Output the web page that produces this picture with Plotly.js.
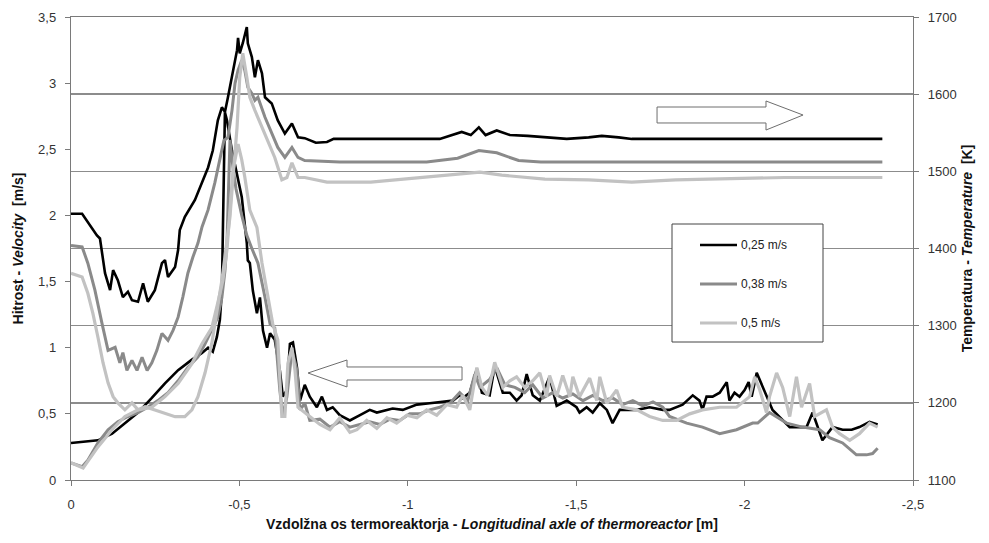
<!DOCTYPE html>
<html>
<head>
<meta charset="utf-8">
<script src="https://cdn.plot.ly/plotly-3.0.1.min.js"></script>
<style>html,body{margin:0;padding:0;background:#fff;}#chart{width:989px;height:543px;}</style>
</head>
<body>
<div id="chart"></div>
<script>
// ---------- DATA ----------
const seriesNames = ['0,25 m/s', '0,38 m/s', '0,5 m/s'];

// Temperature [K] along the axis (right axis), pairs [x (m), T (K)]
const temp025 = [[0,1445],[-0.033,1445],[-0.077,1417],[-0.086,1413],[-0.101,1368],[-0.116,1346],[-0.125,1372],[-0.139,1359],[-0.154,1337],[-0.169,1344],[-0.181,1333],[-0.199,1331],[-0.214,1355],[-0.228,1331],[-0.249,1346],[-0.270,1381],[-0.279,1385],[-0.288,1363],[-0.309,1376],[-0.318,1398],[-0.323,1424],[-0.338,1441],[-0.368,1463],[-0.389,1485],[-0.407,1505],[-0.421,1527],[-0.436,1566],[-0.448,1583],[-0.457,1577],[-0.466,1596],[-0.478,1622],[-0.493,1657],[-0.496,1673],[-0.501,1653],[-0.510,1666],[-0.522,1687],[-0.525,1666],[-0.537,1648],[-0.546,1622],[-0.555,1644],[-0.567,1627],[-0.576,1596],[-0.596,1588],[-0.614,1566],[-0.635,1549],[-0.656,1562],[-0.674,1544],[-0.694,1543],[-0.727,1537],[-0.760,1538],[-0.780,1542],[-1.095,1542],[-1.160,1551],[-1.187,1547],[-1.211,1557],[-1.231,1547],[-1.264,1553],[-1.303,1547],[-1.356,1546],[-1.407,1544],[-1.472,1542],[-1.537,1544],[-1.576,1546],[-1.626,1544],[-1.665,1542],[-2.409,1542]];
const temp038 = [[0,1404],[-0.033,1402],[-0.050,1381],[-0.071,1346],[-0.092,1303],[-0.110,1268],[-0.131,1272],[-0.145,1252],[-0.154,1265],[-0.166,1242],[-0.181,1255],[-0.196,1242],[-0.211,1259],[-0.226,1242],[-0.240,1252],[-0.255,1268],[-0.270,1290],[-0.288,1281],[-0.303,1294],[-0.318,1311],[-0.332,1337],[-0.347,1368],[-0.362,1389],[-0.377,1407],[-0.389,1428],[-0.407,1450],[-0.427,1485],[-0.442,1514],[-0.454,1540],[-0.466,1544],[-0.478,1579],[-0.487,1614],[-0.496,1631],[-0.507,1644],[-0.516,1631],[-0.525,1609],[-0.537,1601],[-0.546,1592],[-0.555,1596],[-0.576,1570],[-0.596,1549],[-0.614,1531],[-0.635,1518],[-0.656,1531],[-0.674,1518],[-0.694,1514],[-0.798,1512],[-1.056,1512],[-1.148,1517],[-1.211,1527],[-1.264,1524],[-1.329,1514],[-1.395,1512],[-2.409,1512]];
const temp05 = [[0,1368],[-0.033,1363],[-0.050,1342],[-0.065,1316],[-0.080,1285],[-0.095,1252],[-0.110,1226],[-0.125,1208],[-0.139,1200],[-0.160,1191],[-0.181,1200],[-0.199,1191],[-0.220,1195],[-0.249,1191],[-0.279,1187],[-0.309,1182],[-0.338,1182],[-0.359,1191],[-0.377,1208],[-0.398,1239],[-0.418,1277],[-0.433,1316],[-0.448,1359],[-0.457,1389],[-0.472,1441],[-0.481,1492],[-0.493,1557],[-0.501,1622],[-0.510,1653],[-0.522,1622],[-0.531,1596],[-0.546,1579],[-0.567,1557],[-0.585,1537],[-0.605,1518],[-0.626,1489],[-0.641,1492],[-0.656,1511],[-0.674,1492],[-0.694,1492],[-0.760,1486],[-0.890,1486],[-1.018,1491],[-1.122,1495],[-1.214,1499],[-1.279,1495],[-1.407,1490],[-1.537,1489],[-1.665,1486],[-1.795,1489],[-1.926,1490],[-2.053,1491],[-2.119,1492],[-2.409,1492]];

// Velocity [m/s] along the axis (left axis), pairs [x (m), v (m/s)]
const vel025 = [[0,0.28],[-0.042,0.29],[-0.080,0.30],[-0.122,0.35],[-0.160,0.43],[-0.199,0.51],[-0.240,0.62],[-0.279,0.73],[-0.318,0.83],[-0.359,0.91],[-0.389,0.96],[-0.407,1.00],[-0.421,0.97],[-0.433,1.08],[-0.442,1.21],[-0.448,1.43],[-0.451,1.89],[-0.454,2.42],[-0.457,2.78],[-0.463,2.72],[-0.478,2.49],[-0.507,2.14],[-0.522,1.79],[-0.525,1.66],[-0.531,1.64],[-0.540,1.43],[-0.552,1.26],[-0.561,1.38],[-0.570,1.13],[-0.582,1.00],[-0.591,1.11],[-0.605,1.06],[-0.620,0.83],[-0.629,0.63],[-0.641,0.68],[-0.650,1.03],[-0.659,1.04],[-0.671,0.85],[-0.680,0.60],[-0.694,0.72],[-0.709,0.63],[-0.730,0.55],[-0.745,0.63],[-0.760,0.53],[-0.777,0.55],[-0.798,0.49],[-0.828,0.45],[-0.858,0.49],[-0.887,0.53],[-0.908,0.51],[-0.938,0.53],[-0.955,0.54],[-0.985,0.53],[-1.006,0.55],[-1.027,0.57],[-1.065,0.58],[-1.104,0.59],[-1.134,0.60],[-1.154,0.64],[-1.163,0.62],[-1.184,0.66],[-1.205,0.84],[-1.220,0.66],[-1.243,0.64],[-1.258,0.86],[-1.282,0.66],[-1.303,0.66],[-1.323,0.60],[-1.338,0.64],[-1.353,0.80],[-1.371,0.64],[-1.392,0.60],[-1.421,0.78],[-1.442,0.56],[-1.472,0.60],[-1.501,0.55],[-1.510,0.51],[-1.531,0.55],[-1.549,0.51],[-1.570,0.58],[-1.591,0.53],[-1.608,0.43],[-1.629,0.53],[-1.650,0.53],[-1.680,0.53],[-1.718,0.55],[-1.757,0.53],[-1.777,0.53],[-1.816,0.57],[-1.846,0.64],[-1.866,0.60],[-1.875,0.53],[-1.887,0.63],[-1.905,0.63],[-1.926,0.66],[-1.947,0.74],[-1.955,0.60],[-1.970,0.66],[-1.985,0.63],[-2.000,0.68],[-2.012,0.74],[-2.021,0.63],[-2.036,0.81],[-2.083,0.53],[-2.134,0.40],[-2.184,0.40],[-2.202,0.51],[-2.231,0.30],[-2.261,0.40],[-2.291,0.38],[-2.318,0.38],[-2.341,0.40],[-2.371,0.44],[-2.395,0.42]];
const vel038 = [[0,0.13],[-0.033,0.10],[-0.050,0.15],[-0.080,0.28],[-0.110,0.38],[-0.139,0.44],[-0.169,0.48],[-0.199,0.51],[-0.228,0.55],[-0.258,0.60],[-0.288,0.66],[-0.318,0.75],[-0.347,0.85],[-0.377,0.93],[-0.398,1.03],[-0.418,1.13],[-0.436,1.23],[-0.448,1.38],[-0.457,1.58],[-0.463,1.79],[-0.466,2.10],[-0.472,2.57],[-0.481,2.36],[-0.490,2.20],[-0.507,2.00],[-0.522,1.85],[-0.537,1.75],[-0.555,1.64],[-0.576,1.38],[-0.591,1.18],[-0.605,1.15],[-0.620,0.68],[-0.629,0.48],[-0.641,0.63],[-0.656,0.98],[-0.671,0.83],[-0.680,0.53],[-0.694,0.58],[-0.709,0.45],[-0.739,0.46],[-0.769,0.40],[-0.798,0.44],[-0.828,0.40],[-0.858,0.42],[-0.887,0.44],[-0.917,0.42],[-0.947,0.46],[-0.976,0.45],[-1.006,0.50],[-1.036,0.50],[-1.065,0.53],[-1.095,0.55],[-1.125,0.58],[-1.154,0.66],[-1.178,0.60],[-1.199,0.80],[-1.214,0.70],[-1.243,0.76],[-1.264,0.85],[-1.288,0.72],[-1.318,0.70],[-1.347,0.66],[-1.371,0.72],[-1.401,0.62],[-1.430,0.66],[-1.460,0.62],[-1.490,0.65],[-1.520,0.60],[-1.549,0.64],[-1.579,0.60],[-1.608,0.62],[-1.638,0.57],[-1.668,0.60],[-1.698,0.56],[-1.728,0.59],[-1.757,0.55],[-1.777,0.48],[-1.828,0.43],[-1.875,0.40],[-1.926,0.35],[-1.976,0.38],[-2.024,0.43],[-2.039,0.43],[-2.074,0.51],[-2.125,0.43],[-2.172,0.40],[-2.223,0.38],[-2.252,0.32],[-2.291,0.28],[-2.332,0.19],[-2.362,0.19],[-2.380,0.20],[-2.395,0.24]];
const vel05 = [[0,0.13],[-0.036,0.09],[-0.080,0.25],[-0.122,0.38],[-0.160,0.48],[-0.199,0.53],[-0.240,0.55],[-0.279,0.63],[-0.318,0.73],[-0.359,0.88],[-0.389,1.03],[-0.418,1.15],[-0.436,1.34],[-0.451,1.51],[-0.463,1.74],[-0.472,2.04],[-0.481,2.34],[-0.496,2.54],[-0.507,2.42],[-0.516,2.29],[-0.531,2.04],[-0.552,1.91],[-0.561,1.74],[-0.567,1.64],[-0.576,1.51],[-0.585,1.38],[-0.599,1.18],[-0.614,1.06],[-0.626,0.48],[-0.635,0.48],[-0.644,0.88],[-0.656,1.00],[-0.665,0.83],[-0.674,0.55],[-0.685,0.53],[-0.709,0.48],[-0.739,0.42],[-0.769,0.38],[-0.798,0.47],[-0.828,0.36],[-0.849,0.38],[-0.878,0.45],[-0.908,0.39],[-0.938,0.47],[-0.967,0.43],[-0.997,0.49],[-1.027,0.47],[-1.056,0.53],[-1.086,0.49],[-1.116,0.57],[-1.145,0.55],[-1.163,0.64],[-1.184,0.53],[-1.205,0.85],[-1.220,0.70],[-1.237,0.64],[-1.258,0.89],[-1.282,0.70],[-1.303,0.75],[-1.323,0.78],[-1.347,0.70],[-1.371,0.75],[-1.392,0.81],[-1.412,0.63],[-1.421,0.79],[-1.442,0.63],[-1.460,0.79],[-1.481,0.63],[-1.490,0.78],[-1.510,0.63],[-1.540,0.77],[-1.561,0.60],[-1.570,0.78],[-1.591,0.58],[-1.620,0.68],[-1.638,0.55],[-1.680,0.53],[-1.718,0.48],[-1.757,0.45],[-1.798,0.45],[-1.837,0.50],[-1.875,0.53],[-1.926,0.55],[-1.976,0.55],[-2.015,0.63],[-2.030,0.78],[-2.045,0.68],[-2.065,0.51],[-2.074,0.63],[-2.095,0.81],[-2.113,0.70],[-2.134,0.48],[-2.154,0.78],[-2.169,0.55],[-2.193,0.73],[-2.208,0.48],[-2.243,0.53],[-2.261,0.40],[-2.282,0.35],[-2.312,0.30],[-2.341,0.35],[-2.371,0.43],[-2.395,0.40]];

// Tick labels
const xTickVals = [0, -0.5, -1, -1.5, -2, -2.5];
const xTickText = ['0', '-0,5', '-1', '-1,5', '-2', '-2,5'];
const vTickVals = [0, 0.5, 1, 1.5, 2, 2.5, 3, 3.5];
const vTickText = ['0', '0,5', '1', '1,5', '2', '2,5', '3', '3,5'];
const tTickVals = [1100, 1200, 1300, 1400, 1500, 1600, 1700];
const tTickText = ['1100', '1200', '1300', '1400', '1500', '1600', '1700'];

// ---------- STYLE ----------
const colors = ['#000000', '#8a8a8a', '#c2c2c2'];
const widths = [2.6, 3, 3.2];
const FONT = 'Arial, "Liberation Sans", Helvetica, sans-serif';

const temps = [temp025, temp038, temp05];
const vels = [vel025, vel038, vel05];

const traces = [];
for (let i = 0; i < 3; i++) {
  traces.push({
    x: temps[i].map(p => p[0]), y: temps[i].map(p => p[1]),
    yaxis: 'y2', type: 'scatter', mode: 'lines', name: seriesNames[i],
    line: {color: colors[i], width: widths[i]}, showlegend: false, hoverinfo: 'skip'
  });
}
for (let i = 0; i < 3; i++) {
  traces.push({
    x: vels[i].map(p => p[0]), y: vels[i].map(p => p[1]),
    yaxis: 'y', type: 'scatter', mode: 'lines', name: seriesNames[i],
    line: {color: colors[i], width: widths[i]}, showlegend: false, hoverinfo: 'skip'
  });
}

// plot-area geometry (pixels) used only to place decorations in paper coords
const PL = 71, PR = 913, PT = 17, PB = 480;
const px = X => (X - PL) / (PR - PL);
const py = Y => (PB - Y) / (PB - PT);
function poly(pts) {
  return 'M ' + pts.map(p => px(p[0]).toFixed(4) + ',' + py(p[1]).toFixed(4)).join(' L ') + ' Z';
}
const arrowRight = [[657,107],[766,107],[766,101],[803,115],[766,130],[766,123],[657,123]];
const arrowLeft = [[308,373],[347,360],[347,367],[462,367],[462,380],[347,380],[347,387]];

const shapes = [
  {type: 'path', xref: 'paper', yref: 'paper', path: poly(arrowRight), fillcolor: '#ffffff', line: {color: '#6e6e6e', width: 1}, layer: 'above'},
  {type: 'path', xref: 'paper', yref: 'paper', path: poly(arrowLeft), fillcolor: '#ffffff', line: {color: '#6e6e6e', width: 1}, layer: 'above'},
  {type: 'rect', xref: 'paper', yref: 'paper', x0: px(672), x1: px(823), y0: py(342), y1: py(224), fillcolor: '#ffffff', line: {color: '#444444', width: 1}, layer: 'above'}
];
const annotations = [];
const legendRows = [245, 284, 323];
for (let i = 0; i < 3; i++) {
  shapes.push({type: 'line', xref: 'paper', yref: 'paper', x0: px(700), x1: px(737), y0: py(legendRows[i]), y1: py(legendRows[i]),
    line: {color: colors[i], width: widths[i]}, layer: 'above'});
  annotations.push({xref: 'paper', yref: 'paper', x: px(739), y: py(legendRows[i]), xanchor: 'left', yanchor: 'middle',
    text: seriesNames[i], showarrow: false, font: {family: FONT, size: 12, color: '#222'}});
}

const axisCommon = {
  showline: true, linecolor: '#7a7a7a', linewidth: 1.2, ticks: 'outside', ticklen: 5, tickcolor: '#7a7a7a',
  tickfont: {family: FONT, size: 13, color: '#333'}, zeroline: false
};

const layout = {
  width: 989, height: 543,
  margin: {l: PL, r: 989 - PR, t: PT, b: 543 - PB},
  paper_bgcolor: '#ffffff', plot_bgcolor: '#ffffff',
  showlegend: false,
  font: {family: FONT},
  xaxis: Object.assign({}, axisCommon, {
    range: [0, -2.5], tickmode: 'array', tickvals: xTickVals, ticktext: xTickText,
    showgrid: false, mirror: true, ticklabelstandoff: 7,
    title: {text: '<b>Vzdolžna os termoreaktorja - <i>Longitudinal axle of thermoreactor</i> [m]</b>',
      font: {family: FONT, size: 14, color: '#111'}, standoff: 8}
  }),
  yaxis: Object.assign({}, axisCommon, {
    range: [0, 3.5], tickmode: 'array', tickvals: vTickVals, ticktext: vTickText,
    showgrid: false, ticklabelstandoff: 6,
    title: {text: '<b>Hitrost - <i>Velocity</i>  [m/s]</b>', font: {family: FONT, size: 14, color: '#111'}, standoff: 11}
  }),
  yaxis2: Object.assign({}, axisCommon, {
    range: [1100, 1700], tickmode: 'array', tickvals: tTickVals, ticktext: tTickText,
    overlaying: 'y', side: 'right', showgrid: true, gridcolor: '#8c8c8c', gridwidth: 1.5, ticklabelstandoff: 6,
    title: {text: '<b>Temperatura - <i>Temperature</i>  [K]</b>', font: {family: FONT, size: 14, color: '#111'}, standoff: 6}
  }),
  shapes: shapes,
  annotations: annotations
};

Plotly.newPlot('chart', traces, layout, {staticPlot: true, displayModeBar: false});
</script>
</body>
</html>
